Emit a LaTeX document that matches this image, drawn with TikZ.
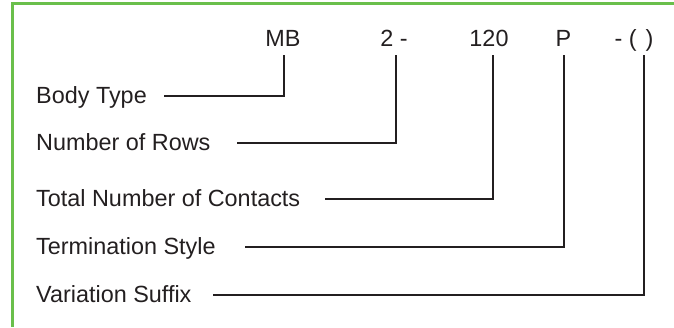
\documentclass[tikz,border=0pt]{standalone}
\usepackage{fontspec}
\setmainfont{Liberation Sans}

\definecolor{frameGreen}{HTML}{6ABF4B}
\definecolor{inkGray}{HTML}{231F20}

\def\codeBase{46.7}
\def\lineTop{55}

\begin{document}
\begin{tikzpicture}[x = 1pt, y = -1pt,
        conn/.style = {draw = inkGray, line width = 2pt},
        fieldText/.style = {anchor = base west, inner sep = 0pt, text = inkGray,
            font = \fontsize{23.4}{28}\selectfont},
        codeText/.style = {anchor = base, inner sep = 0pt, text = inkGray,
            font = \fontsize{23.4}{28}\selectfont}]
            \useasboundingbox (0,0) rectangle (674,327);
            \draw [frameGreen, line width = 2.6pt]
            (674,3.3) -- (12.5,3.3) -- (12.5,327)
            ;
            % part number
            \node [codeText] (cMB) at (283,\codeBase) {MB};
            \node [codeText] (cRows) at (394,\codeBase) {2 -};
            \node [codeText] (cTotal) at (489,\codeBase) {120};
            \node [codeText] (cTerm) at (563.5,\codeBase) {P};
            \node [codeText] (cVar) at (634,\codeBase) {- (\hspace{9pt})};
            % fields
            \node [fieldText] (tBody) at (36,103.2) {Body Type};
            \node [fieldText] (tRows) at (36,150.8) {Number of Rows};
            \node [fieldText] (tTotal) at (36,206.5) {Total Number of Contacts};
            \node [fieldText] (tTerm) at (36,254.8) {Termination Style};
            \node [fieldText] (tVar) at (36,302.5) {Variation Suffix};
            % leaders
            \draw [conn]
            (164,95.7) coordinate (sBody)
            (284.3,\lineTop) coordinate (eMB)
            (sBody) -| (eMB)
            ;
            \draw [conn]
            (237,143.3) coordinate (sRows)
            (395.7,\lineTop) coordinate (eRows)
            (sRows) -| (eRows)
            ;
            \draw [conn]
            (325,199) coordinate (sTotal)
            (492.7,\lineTop) coordinate (eTotal)
            (sTotal) -| (eTotal)
            ;
            \draw [conn]
            (245,247.3) coordinate (sTerm)
            (564.3,\lineTop) coordinate (eTerm)
            (sTerm) -| (eTerm)
            ;
            \draw [conn]
            (213,295) coordinate (sVar)
            (644.3,\lineTop) coordinate (eVar)
            (sVar) -| (eVar)
            ;
        \end{tikzpicture}
\end{document}
